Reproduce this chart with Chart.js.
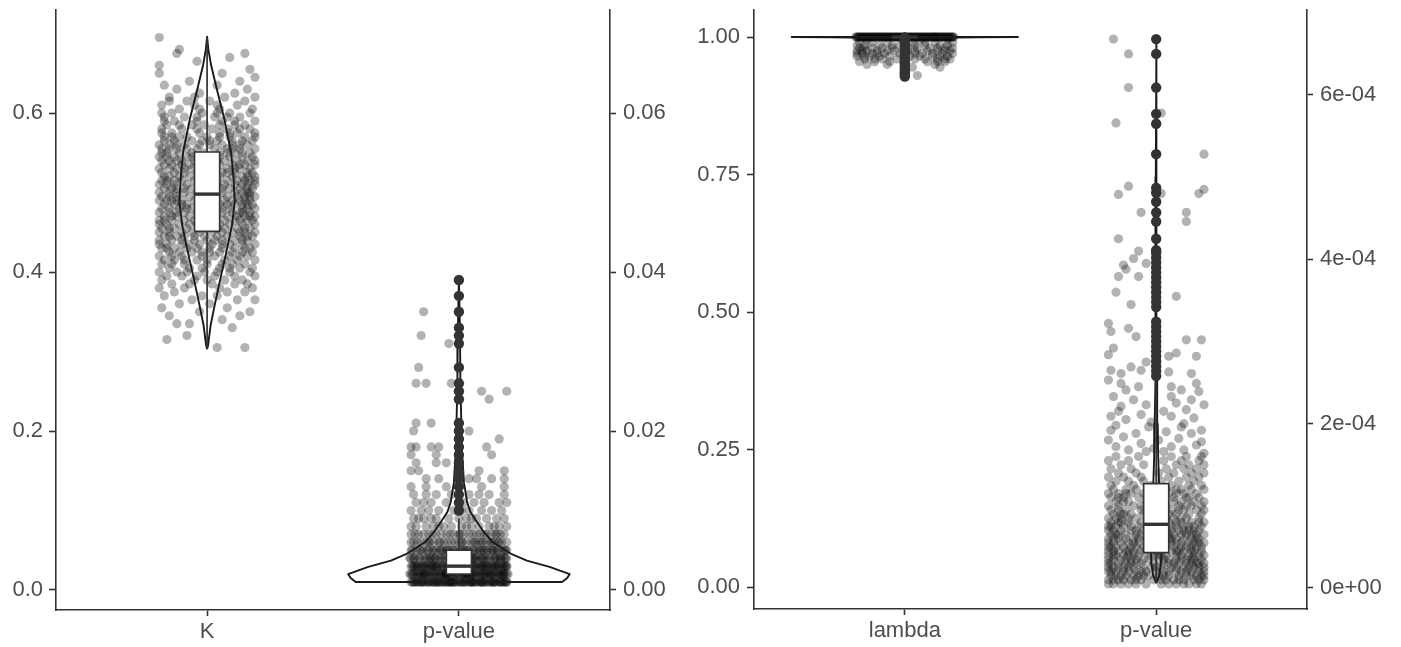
<!DOCTYPE html>
<html>
<head>
<meta charset="utf-8">
<script src="https://cdn.jsdelivr.net/npm/chart.js@4.4.1/dist/chart.umd.min.js"></script>
<style>
  html, body { margin: 0; padding: 0; background: #fff; }
  #left { position: absolute; left: 0; top: 0; }
  #right { position: absolute; left: 680px; top: 0; }
</style>
</head>
<body>
<canvas id="left" width="680" height="647"></canvas>
<canvas id="right" width="721" height="647"></canvas>
<script>
const FONT = "'Liberation Sans', Arial, Helvetica, sans-serif";
const INK = '#333333';
const TEXT = '#4d4d4d';
const JITTER = 'rgba(0,0,0,0.3)';
const BOX_HALF = 0.05;

// ---------- left panel: K and its p-value ----------
const leftCats = ['K', 'p-value'];
const leftTicks = [0, 0.2, 0.4, 0.6];
const leftTicks2 = [0, 0.02, 0.04, 0.06];

// K: [low whisker, Q1, median, Q3, high whisker]
const kStats = [0.303, 0.451, 0.498, 0.551, 0.696];
const kViolinLevels = [0.303, 0.308, 0.333, 0.358, 0.392, 0.426, 0.459, 0.489, 0.522, 0.551, 0.593, 0.627, 0.660, 0.680, 0.696];
const kViolinWidths = [0, 0.004, 0.014, 0.030, 0.053, 0.077, 0.099, 0.110, 0.104, 0.095, 0.068, 0.041, 0.016, 0.005, 0];
const kOutliers = [];
// jittered K values: one row of horizontal offsets per value level
const kLevels = [0.305,0.315,0.32,0.33,0.335,0.34,0.345,0.35,0.355,0.36,0.365,0.37,0.375,0.38,0.385,0.39,0.395,0.40,0.405,0.41,0.415,0.42,0.425,0.43,0.435,0.44,0.445,0.45,0.455,0.46,0.465,0.47,0.475,0.48,0.485,0.49,0.495,0.50,0.505,0.51,0.515,0.52,0.525,0.53,0.535,0.54,0.545,0.55,0.555,0.56,0.565,0.57,0.575,0.58,0.585,0.59,0.595,0.60,0.605,0.61,0.615,0.62,0.625,0.63,0.635,0.64,0.645,0.65,0.655,0.66,0.665,0.67,0.675,0.68,0.695];
const kJitter = [
  [0.04,0.15],[-0.16],[-0.08],[0.10],[-0.12,-0.07],[0.06],[-0.15,0.13],[-0.03,0.17],[-0.18,0.08],[0.01,-0.11],
  [-0.06,0.12,0.19],[-0.17,0.04,-0.02],[0.15,-0.13,0.08],[-0.09,0.18,-0.19,0.05],
  [0.02,-0.14,0.11,0.16,-0.07],[-0.05,0.07,-0.18,0.14,0.00],[0.19,-0.10,0.03,-0.16,0.11,-0.04],
  [-0.12,0.09,-0.01,0.17,-0.19,0.04,-0.08],[0.05,-0.07,0.13,-0.15,0.18,-0.02,0.09],[-0.18,0.00,0.10,-0.09,0.15,0.06,-0.14],
  [0.07,-0.13,0.19,-0.04,0.12,-0.17,0.00,-0.09],[-0.10,0.03,0.16,-0.19,0.09,-0.02,0.13,-0.14],[0.14,-0.06,-0.15,0.05,0.18,-0.11,0.01,-0.02,0.10],
  [-0.18,0.01,0.11,-0.08,0.17,-0.13,0.06,-0.04,0.15,-0.16],[0.09,-0.03,-0.16,0.14,0.02,-0.10,0.19,0.06,-0.07,-0.19],[-0.14,0.06,0.16,-0.05,-0.19,0.11,0.00,0.03,-0.10,0.14],
  [0.18,-0.09,0.04,-0.17,0.13,-0.01,0.08,-0.12,-0.05,0.16,-0.15],[-0.06,0.15,-0.15,0.02,0.10,-0.19,0.19,-0.10,0.06,-0.03,0.13],
  [0.07,-0.13,0.17,-0.03,0.12,-0.18,0.00,-0.08,0.04,-0.15,0.15],[-0.16,0.05,0.14,-0.07,0.19,-0.11,0.09,-0.01,0.02,-0.19,-0.04],
  [0.11,-0.19,0.02,0.16,-0.05,-0.14,0.07,0.18,-0.09,-0.02,0.13,-0.17],[-0.12,0.08,-0.02,0.15,-0.17,0.04,0.19,-0.07,0.12,0.00,-0.14,0.17],
  [0.01,-0.15,0.13,-0.09,0.17,-0.04,0.06,-0.19,0.10,-0.12,0.14,0.03],[-0.18,0.14,-0.06,0.03,0.19,-0.11,0.09,-0.01,-0.15,0.06,-0.08,0.16],
  [0.16,-0.08,0.05,-0.17,0.11,-0.03,0.18,-0.13,0.00,-0.10,0.08,0.14],[-0.10,0.07,-0.19,0.13,0.02,-0.14,0.17,-0.05,0.10,-0.16,-0.02,0.15,-0.12],
  [0.04,-0.12,0.15,-0.02,0.19,-0.18,0.08,-0.07,0.12,0.00,-0.15,0.17],[-0.15,0.01,0.11,-0.09,0.17,-0.04,-0.19,0.06,0.14,0.03,-0.12,0.16],
  [0.09,-0.17,0.18,-0.06,0.03,-0.12,0.13,-0.01,-0.14,0.06,-0.09,0.16],[-0.03,0.16,-0.13,0.07,-0.19,0.11,0.00,-0.08,0.19,0.04,-0.16,0.14],
  [0.12,-0.10,0.04,-0.16,0.17,-0.05,0.08,-0.18,0.15,0.01,-0.13,0.19],[-0.07,0.14,-0.15,0.02,0.10,-0.11,0.19,-0.02,0.05,-0.17,0.16],
  [0.06,-0.18,0.16,-0.04,0.11,-0.13,0.01,0.18,-0.09,0.08,-0.01],[-0.12,0.03,-0.19,0.13,-0.06,0.08,0.17,-0.09,0.00,-0.15,0.11],
  [0.15,-0.02,-0.14,0.10,-0.17,0.05,0.19,-0.07,0.02,-0.10,0.13],[-0.10,0.07,-0.18,0.16,0.00,-0.05,0.12,-0.15,0.04,-0.12,0.19],
  [0.02,-0.13,0.18,-0.08,0.09,-0.19,0.14,-0.03,-0.06,0.05,-0.16],[-0.16,0.11,-0.01,0.17,-0.11,0.05,-0.06,0.08,-0.18,0.14],
  [0.08,-0.18,0.13,-0.04,0.19,-0.12,0.03,-0.08,0.10,-0.15],[-0.09,0.16,-0.15,0.01,0.10,-0.19,0.06,0.13,-0.03,-0.12],
  [0.14,-0.06,0.04,-0.13,0.18,-0.02,0.10,-0.17,0.01],[-0.17,0.09,-0.08,0.15,0.00,-0.11,0.05,-0.14,0.19],
  [0.12,-0.14,0.05,-0.03,0.19,0.09,-0.18],[-0.10,0.17,-0.18,0.02,0.08,-0.04,0.13],[0.15,-0.06,-0.16,0.11,-0.01,0.05,-0.11],
  [-0.13,0.06,0.19,-0.04,-0.17,0.11],[0.03,-0.17,0.13,-0.09,0.08,-0.04],[-0.14,0.09,0.17,-0.02,0.04,-0.18],
  [0.05,-0.11,0.18,-0.03],[-0.18,0.12,-0.05,0.04],[0.01,-0.08,0.15,-0.15],[-0.15,0.07,0.19,-0.05],
  [-0.03,0.11],[-0.12,0.16],[0.04,-0.17],[-0.07,0.13],[0.19],[-0.19,0.06],[0.17],[-0.19],[-0.04],[0.09],[-0.12,0.15],[-0.11],[-0.19]
];

// p-value of K (right axis)
const pLeftStats = [0.001, 0.002, 0.003, 0.005, 0.009];
const pLeftViolinLevels = [0.001, 0.0015, 0.002, 0.0029, 0.0037, 0.0045, 0.006, 0.0073, 0.0085, 0.0098, 0.011, 0.0135, 0.0177, 0.026, 0.033, 0.039];
const pLeftViolinWidths = [0.41, 0.43, 0.44, 0.36, 0.27, 0.21, 0.135, 0.099, 0.073, 0.046, 0.033, 0.02, 0.012, 0.006, 0.004, 0];
const pLeftOutliers = [0.010,0.011,0.012,0.013,0.014,0.015,0.016,0.017,0.018,0.019,0.020,0.021,0.024,0.025,0.026,0.028,0.031,0.032,0.033,0.035,0.037,0.039];
const pLeftLevels = [0.001,0.002,0.003,0.004,0.005,0.006,0.007,0.008,0.009,0.010,0.011,0.012,0.013,0.014,0.015,0.016,0.017,0.018,0.019,0.020,0.021,0.024,0.025,0.026,0.028,0.031,0.032,0.035];
const pLeftJitter = [
  [-0.19,-0.18,-0.17,-0.15,-0.15,-0.14,-0.12,-0.12,-0.11,-0.09,-0.08,-0.08,-0.06,-0.05,-0.04,-0.03,-0.03,-0.01,0.00,0.01,0.02,0.03,0.05,0.05,0.06,0.08,0.09,0.09,0.11,0.12,0.13,0.14,0.14,0.16,0.17,0.18,0.19,0.19,-0.16,-0.10,-0.07,-0.02,0.04,0.07,0.10,0.16,
   -0.185,-0.175,-0.165,-0.145,-0.135,-0.125,-0.105,-0.095,-0.085,-0.065,-0.055,-0.045,-0.025,-0.015,0.005,0.015,0.025,0.045,0.055,0.065,0.085,0.095,0.105,0.125,0.135,0.145,0.165,0.175,0.185,-0.035],
  [-0.19,-0.18,-0.16,-0.15,-0.14,-0.13,-0.11,-0.10,-0.09,-0.07,-0.06,-0.05,-0.04,-0.02,-0.01,0.00,0.02,0.03,0.04,0.06,0.07,0.08,0.10,0.11,0.12,0.13,0.15,0.16,0.17,0.18,0.19,-0.17,-0.12,-0.08,-0.03,0.01,0.05,0.09,0.14,0.18,-0.14,-0.05,0.03,0.12,
   -0.185,-0.165,-0.155,-0.135,-0.125,-0.105,-0.095,-0.075,-0.065,-0.045,-0.035,-0.015,-0.005,0.015,0.025,0.035,0.055,0.065,0.085,0.095,0.105,0.125,0.135,0.155,0.165,0.175,0.195,-0.195,-0.055,0.045],
  [-0.19,-0.17,-0.16,-0.14,-0.13,-0.11,-0.10,-0.08,-0.07,-0.05,-0.04,-0.02,-0.01,0.01,0.02,0.04,0.05,0.07,0.08,0.10,0.11,0.13,0.14,0.16,0.17,0.19,-0.18,-0.12,-0.06,0.00,0.06,0.12,0.18,-0.15,-0.09,-0.03,0.03,0.09,0.15,0.19,
   -0.185,-0.165,-0.145,-0.135,-0.115,-0.095,-0.085,-0.065,-0.045,-0.035,-0.015,0.005,0.025,0.035,0.055,0.065,0.085,0.105,0.115,0.135,0.155,0.175,0.185,-0.175,-0.105,-0.005,0.095,0.145],
  [-0.18,-0.16,-0.13,-0.11,-0.09,-0.06,-0.04,-0.02,0.00,0.01,0.03,0.05,0.07,0.09,0.11,0.12,0.14,0.16,0.18,0.19,-0.19,-0.14,-0.10,-0.07,0.04,0.10,0.15,-0.03,0.06,0.17,
   -0.175,-0.155,-0.125,-0.095,-0.075,-0.055,-0.025,-0.005,0.015,0.035,0.055,0.085,0.095,0.125,0.145,0.165,0.185,-0.195,-0.115,0.065],
  [-0.19,-0.17,-0.14,-0.12,-0.09,-0.07,-0.04,-0.01,0.01,0.04,0.06,0.08,0.10,0.13,0.15,0.17,0.19,-0.15,-0.05,0.02,0.11,0.18,-0.10,-0.02,0.07,0.14,
   -0.185,-0.155,-0.125,-0.105,-0.075,-0.045,-0.025,0.005,0.025,0.055,0.085,0.115,0.135,0.155,0.185,-0.065,0.035,0.095],
  [-0.18,-0.15,-0.13,-0.10,-0.06,-0.03,0.00,0.03,0.05,0.08,0.11,0.14,0.16,0.19,-0.19,-0.08,0.01,0.09,0.17,-0.12,0.06,0.13,
   -0.165,-0.115,-0.075,-0.045,0.015,0.065,0.095,0.125,0.155,-0.015],
  [-0.19,-0.16,-0.12,-0.09,-0.05,-0.02,0.02,0.04,0.07,0.10,0.13,0.15,0.18,-0.14,0.00,0.11,-0.07,
   -0.175,-0.105,-0.035,0.005,0.055,0.085,0.145,0.165],
  [-0.17,-0.13,-0.10,-0.06,-0.03,0.01,0.05,0.08,0.12,0.16,0.19,-0.19,0.14,-0.08,0.03],
  [-0.18,-0.14,-0.09,-0.04,0.00,0.03,0.07,0.11,0.15,0.18,-0.11,0.05,-0.16],
  [-0.19,-0.15,-0.08,-0.02,0.04,0.09,0.13,0.17,-0.12,0.01],
  [-0.17,-0.11,-0.05,0.06,0.10,0.16,0.19,-0.14,0.02],
  [-0.18,-0.09,-0.03,0.08,0.12,0.18,-0.13,0.04],
  [-0.19,-0.13,-0.05,0.09,0.18],
  [-0.13,-0.08,0.04,0.07,0.13,0.18],
  [-0.19,-0.16,0.08,0.18],
  [-0.17,-0.09,-0.05],
  [-0.19,-0.09,0.13],
  [-0.19,-0.17,-0.11,-0.08,0.11],
  [0.16],[-0.18,0.04],[-0.17,-0.11],[0.12],[0.09,0.19],[-0.17,-0.13,-0.03],[-0.16],[-0.04],[-0.15],[-0.14]
];

// ---------- right panel: lambda and its p-value ----------
const rightCats = ['lambda', 'p-value'];
const rightTicks = [0, 0.25, 0.5, 0.75, 1];
const rightTicks2 = [0, 2e-4, 4e-4, 6e-4];

const lambdaStats = [1, 1, 1, 1, 1];
const lambdaViolinLevels = [0.927, 0.96, 0.99, 0.998, 0.9995, 1.0];
const lambdaViolinWidths = [0, 0.002, 0.004, 0.02, 0.3, 0.45];
const lambdaOutliers = [0.999,0.996,0.992,0.988,0.984,0.980,0.976,0.972,0.968,0.964,0.960,0.956,0.952,0.948,0.944,0.940,0.936,0.932,0.928];
const lambdaLevels = [1.0, 0.995, 0.99, 0.985, 0.98, 0.975, 0.97, 0.965, 0.96, 0.955, 0.95, 0.945, 0.93];
const lambdaJitter = [
  [-0.19,-0.18,-0.18,-0.17,-0.16,-0.15,-0.15,-0.14,-0.13,-0.12,-0.12,-0.11,-0.10,-0.09,-0.09,-0.08,-0.07,-0.06,-0.06,-0.05,-0.04,-0.03,-0.03,-0.02,-0.01,0.00,0.00,0.01,0.02,0.03,0.03,0.04,0.05,0.06,0.06,0.07,0.08,0.09,0.09,0.10,0.11,0.12,0.12,0.13,0.14,0.15,0.15,0.16,0.17,0.18,0.18,0.19,-0.195,-0.165,-0.105,-0.045,0.015,0.075,0.135,0.195,
   -0.185,-0.175,-0.155,-0.145,-0.135,-0.125,-0.115,-0.095,-0.085,-0.075,-0.065,-0.055,-0.035,-0.025,-0.015,-0.005,0.005,0.025,0.035,0.045,0.055,0.065,0.085,0.095,0.105,0.115,0.125,0.145,0.155,0.165,0.175,0.185,
   -0.19,-0.17,-0.16,-0.14,-0.11,-0.10,-0.08,-0.07,-0.05,-0.04,-0.02,-0.01,0.01,0.02,0.04,0.05,0.07,0.08,0.10,0.11,0.13,0.14,0.16,0.17,0.19,-0.13,0.00,0.12],
  [-0.15,0.06,0.17],
  [-0.18,-0.07,0.03,0.12,0.19,-0.13,0.08],
  [-0.16,-0.10,-0.02,0.08,0.14,-0.19,-0.05,0.17,0.04],
  [-0.13,-0.05,0.01,0.10,0.16,-0.18,0.05,-0.09,0.13,-0.16,0.19],
  [-0.19,-0.11,-0.04,0.04,0.09,0.13,0.18,-0.15,-0.07,0.01,0.16,-0.17],
  [-0.17,-0.08,0.00,0.07,0.15,0.19,-0.13,-0.02,-0.11,0.04,0.11,-0.19],
  [-0.14,-0.06,0.02,0.11,0.17,-0.19,0.06,-0.10,0.14,-0.16],
  [-0.16,-0.09,0.04,0.13,-0.03,0.18,-0.12,0.08,0.16],
  [-0.12,0.00,0.09,0.16,-0.18,-0.06,0.13],
  [-0.07,0.12,-0.15],
  [0.03,0.14],
  [0.05]
];

// p-value of lambda, in units of 1e-4 (right axis)
const pRightStatsE4 = [0.07, 0.43, 0.775, 1.27, 2.53];
const pRightViolinLevelsE4 = [0.06, 0.15, 0.3, 0.5, 0.8, 1.2, 1.6, 2.0, 2.5, 3.0, 4.0, 5.0, 6.68];
const pRightViolinWidths = [0, 0.012, 0.019, 0.022, 0.021, 0.012, 0.008, 0.006, 0.004, 0.003, 0.002, 0.0015, 0];
const pRightOutliersE4 = [2.58,2.64,2.70,2.76,2.82,2.88,2.94,3.00,3.06,3.12,3.18,3.24,3.42,3.48,3.54,3.60,3.66,3.72,3.78,3.84,3.90,3.96,4.02,4.08,4.11,4.25,4.46,4.57,4.70,4.81,4.87,5.28,5.65,5.77,6.09,6.50,6.68];
const pRightLevelsE4 = [0.05,0.10,0.15,0.20,0.25,0.30,0.35,0.40,0.45,0.50,0.55,0.60,0.65,0.70,0.75,0.80,0.85,0.90,0.95,1.00,1.05,1.10,1.15,1.20,1.25,1.30,1.35,1.40,1.45,1.50,1.55,1.60];
const pRightJitter = [
  [-0.17,-0.11,-0.04,0.02,0.08,0.13,0.18,-0.08,-0.19,-0.14,0.05,0.11,0.16],
  [-0.19,-0.15,-0.10,-0.06,-0.01,0.04,0.07,0.11,0.15,0.19,-0.13,-0.17,-0.08,0.02,0.09,0.17],
  [-0.18,-0.14,-0.12,-0.07,-0.03,0.01,0.05,0.09,0.12,0.16,0.19,-0.09,-0.16,-0.05,0.03,0.14,0.18],
  [-0.19,-0.16,-0.11,-0.08,-0.04,0.00,0.03,0.08,0.10,0.14,0.17,-0.13,-0.18,-0.06,0.05,0.12,0.19],
  [-0.17,-0.13,-0.09,-0.05,-0.02,0.02,0.06,0.11,0.13,0.17,0.19,-0.19,-0.15,-0.11,0.00,0.08,0.15],
  [-0.18,-0.15,-0.10,-0.06,-0.01,0.03,0.07,0.09,0.14,0.16,0.19,-0.12,-0.19,-0.08,0.05,0.12,0.17],
  [-0.19,-0.14,-0.12,-0.08,-0.03,0.01,0.05,0.10,0.12,0.15,0.18,-0.05,-0.17,-0.10,0.03,0.08,0.14],
  [-0.17,-0.16,-0.11,-0.07,-0.02,0.02,0.04,0.08,0.13,0.17,0.19,-0.13,-0.19,-0.09,0.00,0.10,0.15],
  [-0.19,-0.15,-0.09,-0.06,-0.04,0.00,0.06,0.09,0.11,0.15,0.18,-0.12,-0.17,-0.11,0.02,0.08,0.14],
  [-0.18,-0.13,-0.10,-0.05,-0.01,0.03,0.07,0.12,0.14,0.18,-0.16,-0.19,-0.08,0.01,0.10,0.16],
  [-0.19,-0.14,-0.11,-0.07,-0.02,0.04,0.08,0.10,0.15,0.19,0.01,-0.17,-0.09,0.06,0.13,0.17],
  [-0.17,-0.15,-0.09,-0.04,0.00,0.05,0.06,0.11,0.16,0.17,-0.12,-0.19,-0.07,0.02,0.08,0.14],
  [-0.18,-0.12,-0.08,-0.03,0.02,0.07,0.12,0.14,0.19,-0.15,-0.16,-0.06,0.05,0.10,0.16],
  [-0.19,-0.14,-0.10,-0.05,0.01,0.04,0.09,0.13,0.17,-0.02,-0.17,-0.08,0.06,0.11,0.15],
  [-0.16,-0.13,-0.07,-0.01,0.03,0.08,0.11,0.15,0.18,-0.19,-0.18,-0.10,0.01,0.06,0.13],
  [-0.18,-0.11,-0.06,0.00,0.05,0.10,0.14,0.19,-0.15,-0.14,-0.03,0.03,0.08,0.17],
  [-0.19,-0.14,-0.08,-0.03,0.04,0.07,0.12,0.17,-0.11,-0.16,0.10],
  [-0.17,-0.10,-0.05,0.02,0.08,0.13,0.18,-0.14,-0.13,0.05],
  [-0.18,-0.12,-0.06,0.01,0.06,0.11,0.16,0.19,-0.15,0.09],
  [-0.19,-0.15,-0.09,-0.02,0.04,0.09,0.14,0.18,-0.06,0.12],
  [-0.16,-0.11,-0.04,0.03,0.10,0.15,0.19,-0.13,0.07],
  [-0.18,-0.13,-0.07,0.02,0.07,0.12,0.17,-0.15,0.13],
  [-0.19,-0.10,-0.05,0.05,0.11,0.16,-0.15,-0.12,0.08],
  [-0.17,-0.12,-0.03,0.04,0.08,0.14,0.19,-0.08,0.10],
  [-0.18,-0.09,-0.02,0.06,0.13,0.18],
  [-0.16,-0.11,0.02,0.09,0.15,-0.05],
  [-0.19,-0.13,-0.06,0.05,0.12,0.17],
  [-0.15,-0.08,0.01,0.07,0.14,0.19],
  [-0.18,-0.10,0.04,0.11,0.16],
  [-0.14,-0.05,0.08,0.13,0.19],
  [-0.19,-0.11,0.03,0.10,0.17],
  [-0.16,-0.07,0.06,0.12,0.18]
];
// sparser upper points read one by one: [offset, value in 1e-4]
const pRightLooseE4 = [
  [0.19,1.64],[0.03,1.66],[-0.04,1.66],[-0.11,1.68],[0.11,1.68],[-0.01,1.70],[-0.16,1.72],[0.06,1.72],[0.16,1.74],[-0.06,1.76],
  [0.18,1.78],[0.01,1.80],[-0.19,1.80],[0.09,1.82],[-0.13,1.84],[-0.08,1.88],[0.14,1.88],[0.04,1.90],[-0.18,1.92],[0.18,1.92],
  [-0.03,1.96],[0.10,1.96],[-0.16,1.98],[0.11,2.00],[-0.02,2.02],[-0.12,2.05],[0.15,2.07],[-0.18,2.09],[0.06,2.09],[-0.06,2.11],
  [0.03,2.15],[-0.15,2.15],[0.12,2.17],[-0.14,2.21],[-0.04,2.23],[0.19,2.23],[0.08,2.25],[-0.09,2.29],[0.14,2.29],[-0.17,2.33],
  [0.06,2.33],[0.17,2.39],[-0.12,2.41],[0.10,2.41],[-0.07,2.45],[0.06,2.45],[-0.14,2.49],[0.16,2.49],[-0.19,2.53],[-0.14,2.61],
  [0.14,2.61],[0.05,2.63],[-0.18,2.65],[-0.06,2.65],[-0.10,2.69],[-0.04,2.75],[0.05,2.82],[0.16,2.82],[-0.19,2.84],[0.08,2.86],
  [-0.17,2.92],[0.12,3.02],[0.18,3.02],[-0.08,3.06],[-0.18,3.12],[-0.11,3.16],[-0.19,3.22],[-0.10,3.45],[0.08,3.55],[-0.16,3.60],
  [-0.15,3.79],[-0.07,3.79],[-0.12,3.88],[-0.13,3.93],[-0.04,3.95],[-0.09,4.01],[-0.07,4.10],[-0.15,4.25],[0.12,4.46],[0.12,4.57],
  [-0.06,4.57],[-0.15,4.79],[0.02,4.80],[0.17,4.80],[0.19,4.85],[-0.11,4.89],[0.19,5.28],[-0.16,5.66],[0.02,5.78],[-0.11,6.09],
  [-0.11,6.50],[-0.17,6.68]
];

// ---------- helpers ----------
function rows(levels, jitter, pos, scale) {
  const pts = [];
  levels.forEach((v, i) => (jitter[i] || []).forEach(dx => pts.push({x: pos + dx, y: v * scale})));
  return pts;
}

function group(pos, axis, pts, vLevels, vWidths, stats, outliers, scale) {
  const [lo, q1, med, q3, hi] = stats.map(v => v * scale);
  const side = s => vLevels.map((v, i) => ({x: pos + s * vWidths[i], y: v * scale}));
  const rightSide = side(1);
  const leftSide = side(-1).reverse();
  const line = (data, width, order, extra) => Object.assign({
    data, yAxisID: axis, showLine: true, borderColor: INK, borderWidth: width,
    pointRadius: 0, tension: 0, order
  }, extra || {});
  const l = pos - BOX_HALF, r = pos + BOX_HALF;
  return [
    {data: pts, yAxisID: axis, order: 7, pointRadius: 4.6, pointBackgroundColor: JITTER,
     pointBorderColor: 'rgba(0,0,0,0)', pointBorderWidth: 0},
    line(rightSide.concat(leftSide, [rightSide[0]]), 1.9, 6, {borderColor: '#1a1a1a', borderJoinStyle: 'round'}),
    line([{x: pos, y: lo}, {x: pos, y: hi}], 1.7, 5),
    line([{x: l, y: q3}, {x: r, y: q3}], 0, 4, {borderColor: 'rgba(0,0,0,0)', fill: {value: q1}, backgroundColor: '#ffffff'}),
    line([{x: l, y: q1}, {x: r, y: q1}, {x: r, y: q3}, {x: l, y: q3}, {x: l, y: q1}], 1.7, 3),
    line([{x: l, y: med}, {x: r, y: med}], 3.4, 2, {borderCapStyle: 'butt'}),
    {data: outliers.map(v => ({x: pos, y: v * scale})), yAxisID: axis, order: 1, pointRadius: 5.2,
     pointBackgroundColor: INK, pointBorderColor: 'rgba(0,0,0,0)', pointBorderWidth: 0}
  ];
}

function axisY(position, min, max, ticks, fmt, width, tickLen, pad) {
  return {
    type: 'linear', position, min, max,
    afterBuildTicks: s => { s.ticks = ticks.map(v => ({value: v})); },
    afterFit: s => { s.width = width; s.paddingTop = 0; s.paddingBottom = 0; },
    grid: {display: true, drawOnChartArea: false, drawTicks: true, tickLength: tickLen, tickWidth: 1.6, color: INK, tickColor: INK},
    border: {display: true, color: INK, width: 1.6},
    ticks: {color: TEXT, font: {family: FONT, size: 22}, padding: pad, callback: fmt}
  };
}

function axisX(cats, height) {
  return {
    type: 'linear', position: 'bottom', min: 0.4, max: 2.6,
    afterBuildTicks: s => { s.ticks = cats.map((c, i) => ({value: i + 1})); },
    afterFit: s => { s.height = height; s.paddingLeft = 0; s.paddingRight = 0; },
    grid: {display: true, drawOnChartArea: false, drawTicks: true, tickLength: 6, tickWidth: 1.6, color: INK, tickColor: INK},
    border: {display: true, color: INK, width: 1.6},
    ticks: {color: TEXT, font: {family: FONT, size: 22}, padding: 3, autoSkip: false, maxRotation: 0,
            callback: v => cats[Math.round(v) - 1]}
  };
}

function expLabel(v) {
  if (v === 0) return '0e+00';
  const e = Math.floor(Math.log10(Math.abs(v)) + 1e-9);
  const m = Math.round(v / Math.pow(10, e));
  return m + 'e' + (e < 0 ? '-' : '+') + String(Math.abs(e)).padStart(2, '0');
}

function makeChart(id, datasets, scales) {
  return new Chart(document.getElementById(id), {
    type: 'scatter',
    data: {datasets},
    options: {
      responsive: false, animation: false, events: [], devicePixelRatio: 1,
      layout: {padding: {top: 10, left: 0, right: 0, bottom: 0}},
      plugins: {legend: {display: false}, tooltip: {enabled: false}, filler: {drawTime: 'beforeDatasetDraw'}},
      scales
    }
  });
}

// ---------- left chart ----------
makeChart('left',
  [].concat(
    group(1, 'y', rows(kLevels, kJitter, 1, 1), kViolinLevels, kViolinWidths, kStats, kOutliers, 1),
    group(2, 'y2', rows(pLeftLevels, pLeftJitter, 2, 1), pLeftViolinLevels, pLeftViolinWidths, pLeftStats, pLeftOutliers, 1)
  ),
  {
    x: axisX(leftCats, 37),
    y: axisY('left', -0.02516, 0.7296, leftTicks, v => v.toFixed(1), 56, 7, 6),
    y2: axisY('right', -0.002516, 0.07296, leftTicks2, v => v.toFixed(2), 70, 6, 7)
  }
);

// ---------- right chart ----------
const pRightPoints = rows(pRightLevelsE4, pRightJitter, 2, 1e-4)
  .concat(pRightLooseE4.map(p => ({x: 2 + p[0], y: p[1] * 1e-4})));

makeChart('right',
  [].concat(
    group(1, 'y', rows(lambdaLevels, lambdaJitter, 1, 1), lambdaViolinLevels, lambdaViolinWidths, lambdaStats, lambdaOutliers, 1),
    group(2, 'y2', pRightPoints, pRightViolinLevelsE4, pRightViolinWidths, pRightStatsE4, pRightOutliersE4, 1e-4)
  ),
  {
    x: axisX(rightCats, 38),
    y: axisY('left', -0.04, 1.0491, rightTicks, v => v.toFixed(2), 74, 7, 7),
    y2: axisY('right', -2.556e-5, 7.034e-4, rightTicks2, expLabel, 94, 6, 7)
  }
);
</script>
</body>
</html>
